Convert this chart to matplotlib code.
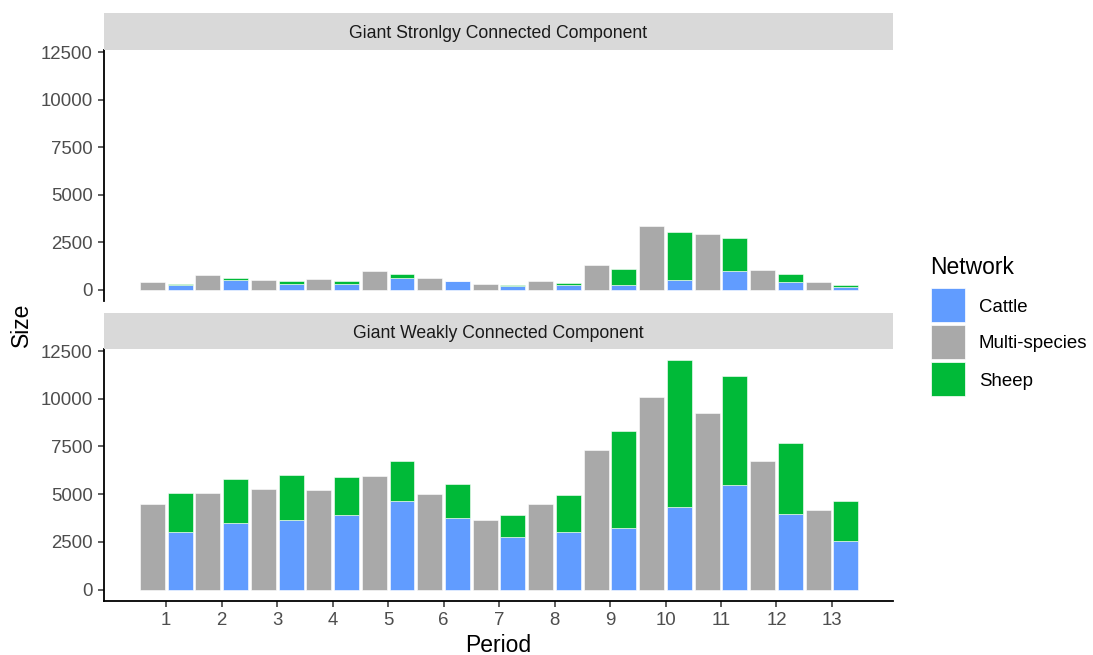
import numpy as np
import matplotlib
matplotlib.use("Agg")
import matplotlib.pyplot as plt
from matplotlib.patches import Rectangle

matplotlib.rcParams.update({
    "font.family": ["Liberation Sans", "DejaVu Sans"],
})

# ---------------------------------------------------------------------------
# Data: component sizes per period
# ---------------------------------------------------------------------------
periods = np.arange(1, 14)

# Giant strongly connected component
scc_multi = [405, 760, 510, 548, 1000, 617, 300, 458, 1287, 3360, 2900, 1040, 422]
scc_cattle = [230, 510, 300, 316, 633, 443, 180, 248, 248, 512, 986, 390, 127]
scc_sheep = [86, 107, 143, 127, 195, 17, 50, 105, 844, 2531, 1704, 454, 137]

# Giant weakly connected component
wcc_multi = [4500, 5050, 5260, 5200, 5930, 4990, 3620, 4500, 7330, 10090, 9250, 6730, 4170]
wcc_cattle = [3000, 3480, 3620, 3920, 4620, 3740, 2730, 3030, 3240, 4310, 5470, 3980, 2570]
wcc_sheep = [2080, 2340, 2410, 1970, 2110, 1780, 1190, 1910, 5090, 7700, 5700, 3690, 2050]

panel_titles = ["Giant Stronlgy Connected Component",
                "Giant Weakly Connected Component"]
networks = ["Cattle", "Multi-species", "Sheep"]
colours = {"Cattle": "#619CFF", "Multi-species": "#A9A9A9", "Sheep": "#00BA38"}
yticks = [0, 2500, 5000, 7500, 10000, 12500]

# ---------------------------------------------------------------------------
# Layout helpers (pixel coordinates)
# ---------------------------------------------------------------------------
W, H = 1093, 655
fig = plt.figure(figsize=(W / 100, H / 100), dpi=100)


def fbox(x0, y0, x1, y1):
    """Convert a pixel box (top-left origin) to figure fractions."""
    return [x0 / W, 1 - y1 / H, (x1 - x0) / W, (y1 - y0) / H]


PX0, PX1 = 103.5, 893
panels = [(50, 301, 13, 50), (349, 601, 313, 349)]
TXT = "#4D4D4D"
width = 0.45
off = 0.25

data = [(scc_multi, scc_cattle, scc_sheep), (wcc_multi, wcc_cattle, wcc_sheep)]

for i, ((top, bot, st, sb), (multi, cattle, sheep)) in enumerate(zip(panels, data)):
    ax = fig.add_axes(fbox(PX0, top, PX1, bot))
    kw = dict(width=width, edgecolor="white", linewidth=0.4)
    ax.bar(periods - off, multi, color=colours["Multi-species"], **kw)
    ax.bar(periods + off, cattle, color=colours["Cattle"], **kw)
    ax.bar(periods + off, sheep, bottom=cattle, color=colours["Sheep"], **kw)

    ax.set_xlim(-0.13, 14.1)
    ax.set_ylim(-600, 12610)
    ax.set_yticks(yticks)
    ax.set_xticks(periods)
    for s in ("top", "right"):
        ax.spines[s].set_visible(False)
    ax.spines["left"].set_linewidth(1.3)
    ax.spines["bottom"].set_linewidth(1.3)
    ax.tick_params(axis="both", length=4.3, width=1.1, color="#333333",
                   labelsize=13.4, labelcolor=TXT, pad=3.5)
    if i == 0:
        ax.spines["bottom"].set_visible(False)
        ax.tick_params(axis="x", bottom=False, labelbottom=False)

    # facet strip
    sax = fig.add_axes(fbox(PX0, st, PX1, sb))
    sax.set_facecolor("#D9D9D9")
    sax.set_xticks([])
    sax.set_yticks([])
    for s in sax.spines.values():
        s.set_visible(False)
    sax.text(0.5, 0.44, panel_titles[i], ha="center", va="center",
             fontsize=12.7, color="#1A1A1A", transform=sax.transAxes)

# axis titles
fig.text(498 / W, 1 - 645 / H, "Period", ha="center", va="center", fontsize=16.5)
fig.text(21 / W, 1 - 325 / H, "Size", ha="center", va="center",
         rotation=90, fontsize=16.5)

# legend
fig.text(930 / W, 1 - 267 / H, "Network", ha="left", va="center", fontsize=16.5)
for k, name in enumerate(networks):
    y0 = 288 + 37 * k
    fig.add_artist(Rectangle((931 / W, 1 - (y0 + 34) / H), 34 / W, 34 / H,
                             transform=fig.transFigure,
                             facecolor=colours[name], edgecolor="white",
                             linewidth=0.5))
    fig.text(979 / W, 1 - (y0 + 19) / H, name, ha="left", va="center",
             fontsize=13.4)

fig.savefig("out.png", dpi=100)
